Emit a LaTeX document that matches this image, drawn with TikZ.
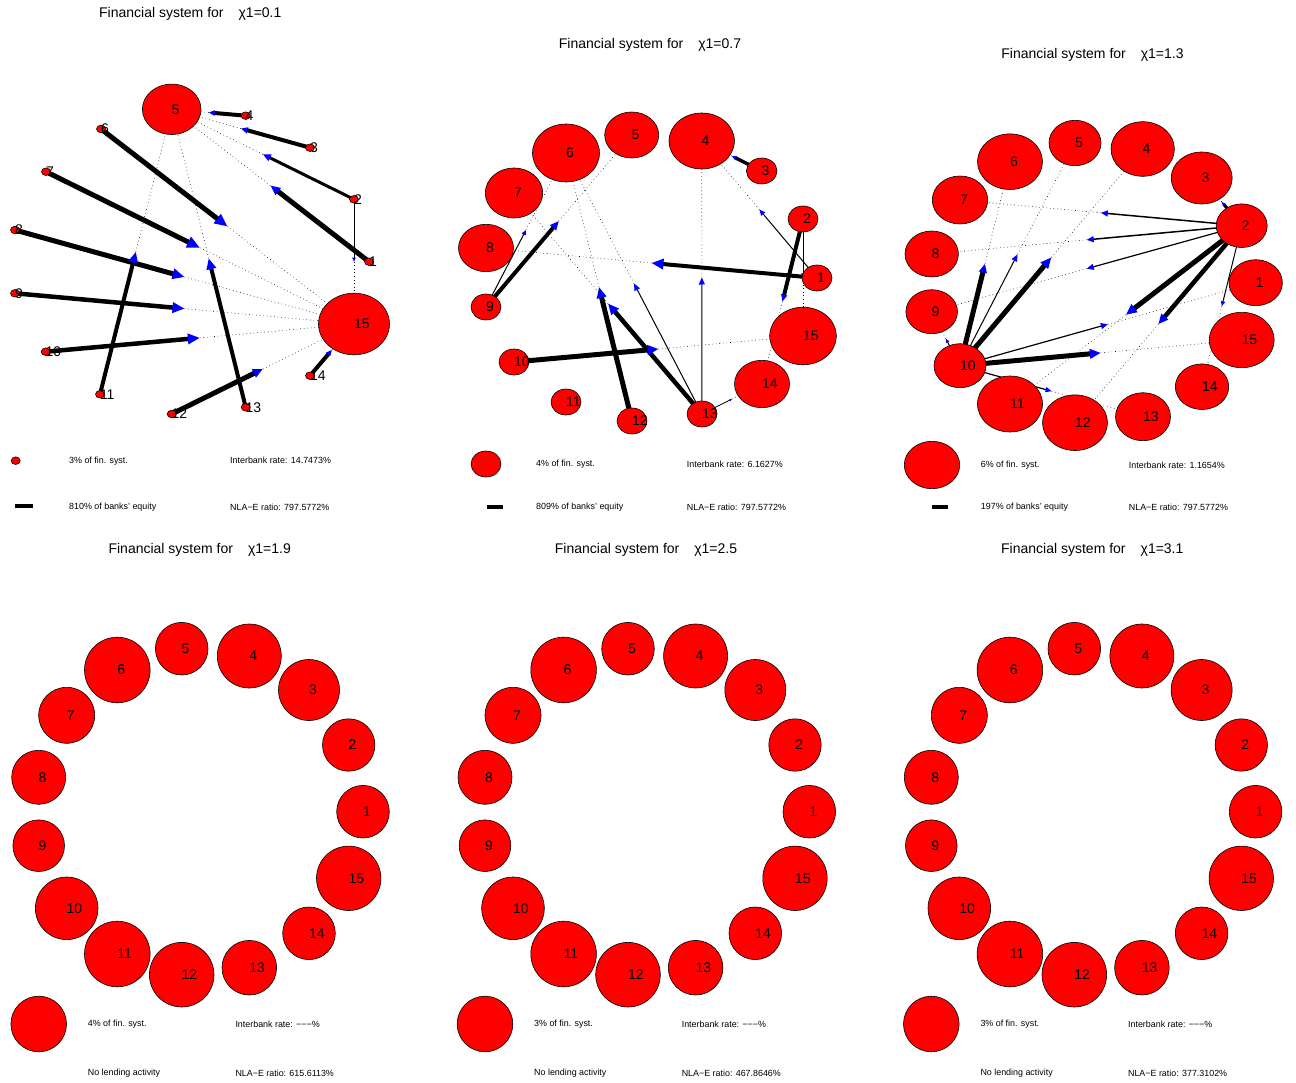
\documentclass[tikz,border=0pt]{standalone}
\usepackage{fontspec}
\setmainfont{Liberation Sans}
\usetikzlibrary{shapes.geometric,arrows.meta,calc}
\pgfdeclarelayer{edgelayer}
\pgfsetlayers{edgelayer,main}
\newcommand\bkNum{\fontsize{14}{16}\selectfont}
\newcommand\bkTitle{\fontsize{14}{16}\selectfont}
\newcommand\bkLeg{\fontsize{8.9}{10}\selectfont}
\newcommand\bkL[1]{\makebox[0pt][l]{\smash{\raisebox{-0.5\height}{#1}}}}
\tikzset{
  bank/.style 2 args={ellipse, draw=black, fill=red, line width=0.6pt, inner sep=0pt, outer sep=0pt,
     minimum width={2*#1pt}, minimum height={2*#2pt}, font=\bkNum},
  legdot/.style 2 args={ellipse, draw=black, fill=red, line width=0.6pt, inner sep=0pt, outer sep=0pt,
     minimum width={2*#1pt}, minimum height={2*#2pt}},
  ttl/.style={font=\bkTitle, inner sep=0pt},
  leg/.style={font=\bkLeg, anchor=west, inner sep=0pt},
  dotl/.style={line width=0.6pt, dash pattern=on 0.6pt off 3pt},
  legbar/.style={line width=4pt},
}
\newcommand\bkedge[4]{%
  \pgfmathsetmacro\bkwid{0.85*#4}%
  \draw[line width=#3pt, -{Triangle[color=blue,length=#4pt,width=\bkwid pt]}] (#1.center) -- ($(#1.center)!0.5!(#2.center)$);
  \draw[dotl] ($(#1.center)!0.5!(#2.center)$) -- (#2.center);
}
\begin{document}
\begin{tikzpicture}[x=1pt,y=-1pt]
\path[use as bounding box] (0,0) rectangle (1296,1083);

% ---------------- Panel 1 ----------------
\node[ttl] (A-title) at (190.3,14) {Financial system for\hspace{15pt}χ1=0.1};
\node[bank={4.5}{3.8}] (A1) at (369,261.7) {\bkL{1}};
\node[bank={4.5}{3.8}] (A2) at (354,199.3) {\bkL{2}};
\node[bank={4.5}{3.8}] (A3) at (310,147.7) {\bkL{3}};
\node[bank={4.5}{3.8}] (A4) at (245.7,115.7) {\bkL{4}};
\node[bank={29.3}{25.2}] (A5) at (171.7,109.3) {\bkL{5}};
\node[bank={4.5}{3.8}] (A6) at (101,129) {\bkL{6}};
\node[bank={4.5}{3.8}] (A7) at (46,171.7) {\bkL{7}};
\node[bank={4.5}{3.8}] (A8) at (15,230) {\bkL{8}};
\node[bank={4.5}{3.8}] (A9) at (15,293.3) {\bkL{9}};
\node[bank={4.5}{3.8}] (A10) at (45.7,351.7) {\bkL{10}};
\node[bank={4.5}{3.8}] (A11) at (100,394.3) {\bkL{11}};
\node[bank={4.5}{3.8}] (A12) at (171.7,414) {\bkL{12}};
\node[bank={4.5}{3.8}] (A13) at (245.7,407.3) {\bkL{13}};
\node[bank={4.5}{3.8}] (A14) at (310,375.7) {\bkL{14}};
\node[bank={35.5}{30.8}] (A15) at (354,324) {\bkL{15}};
\node[legdot={4.5}{3.8}] (A0) at (15.7,460.7) {};
\node[leg] (A-l1) at (69,460.7) {3\% of fin. syst.};
\node[leg] (A-l2) at (230,460.7) {Interbank rate: 14.7473\%};
\node[leg] (A-l3) at (69,507) {810\% of banks' equity};
\node[leg] (A-l4) at (230,507) {NLA−E ratio: 797.5772\%};
\draw[legbar] (15,506) -- (33,506);

% ---------------- Panel 2 ----------------
\node[ttl] (B-title) at (650,45) {Financial system for\hspace{15pt}χ1=0.7};
\node[bank={15}{13}] (B1) at (817,278) {\bkL{1}};
\node[bank={15}{13}] (B2) at (803,219) {\bkL{2}};
\node[bank={15.3}{13}] (B3) at (761.7,171) {\bkL{3}};
\node[bank={32.7}{28}] (B4) at (701.7,141) {\bkL{4}};
\node[bank={27}{23}] (B5) at (631.7,135) {\bkL{5}};
\node[bank={33.5}{29}] (B6) at (566,153) {\bkL{6}};
\node[bank={28.7}{25}] (B7) at (514,193) {\bkL{7}};
\node[bank={27.5}{23.7}] (B8) at (486,248) {\bkL{8}};
\node[bank={15}{13}] (B9) at (486,307) {\bkL{9}};
\node[bank={15}{13}] (B10) at (514,362) {\bkL{10}};
\node[bank={15}{13}] (B11) at (566,402) {\bkL{11}};
\node[bank={15}{13}] (B12) at (632,421) {\bkL{12}};
\node[bank={15}{13}] (B13) at (702,414) {\bkL{13}};
\node[bank={27.5}{23.7}] (B14) at (762,384) {\bkL{14}};
\node[bank={33.3}{28.8}] (B15) at (803,336) {\bkL{15}};
\node[legdot={15}{13}] (B0) at (486,464) {};
\node[leg] (B-l1) at (536,464) {4\% of fin. syst.};
\node[leg] (B-l2) at (686.7,464) {Interbank rate: 6.1627\%};
\node[leg] (B-l3) at (536,507) {809\% of banks' equity};
\node[leg] (B-l4) at (686.7,507) {NLA−E ratio: 797.5772\%};
\draw[legbar] (486.7,507) -- (502.7,507);

% ---------------- Panel 3 ----------------
\node[ttl] (C-title) at (1092.5,55) {Financial system for\hspace{15pt}χ1=1.3};
\node[bank={26.7}{23}] (C1) at (1255.7,282.7) {\bkL{1}};
\node[bank={25.5}{21.8}] (C2) at (1241.7,225.7) {\bkL{2}};
\node[bank={30.5}{26}] (C3) at (1201.7,178) {\bkL{3}};
\node[bank={31.7}{27.3}] (C4) at (1142.7,149) {\bkL{4}};
\node[bank={26}{22.7}] (C5) at (1075,143) {\bkL{5}};
\node[bank={32.5}{27.8}] (C6) at (1010,161.7) {\bkL{6}};
\node[bank={27.7}{24}] (C7) at (960,200) {\bkL{7}};
\node[bank={26.7}{23}] (C8) at (931.7,254) {\bkL{8}};
\node[bank={25.8}{22}] (C9) at (931.7,311.7) {\bkL{9}};
\node[bank={26}{22}] (C10) at (960,365.7) {\bkL{10}};
\node[bank={32.5}{28}] (C11) at (1010,404) {\bkL{11}};
\node[bank={32.5}{27.8}] (C12) at (1075,422.7) {\bkL{12}};
\node[bank={27.5}{24}] (C13) at (1143,416.7) {\bkL{13}};
\node[bank={26.7}{22.8}] (C14) at (1202,386.7) {\bkL{14}};
\node[bank={32.5}{27.7}] (C15) at (1241.7,340) {\bkL{15}};
\node[legdot={27.7}{23.7}] (C0) at (932,465) {};
\node[leg] (C-l1) at (980.7,465) {6\% of fin. syst.};
\node[leg] (C-l2) at (1128.7,465) {Interbank rate: 1.1654\%};
\node[leg] (C-l3) at (980.7,507) {197\% of banks' equity};
\node[leg] (C-l4) at (1128.7,507) {NLA−E ratio: 797.5772\%};
\draw[legbar] (931.7,507) -- (948.3,507);

% ---------------- Bottom panels ----------------
\foreach \pn/\dx/\cv/\pc/\nla in {D/0/1.9/4/615.6113,E/446.3/2.5/3/467.8646,F/892.6/3.1/3/377.3102}{
  \node[ttl] (\pn-title) at (199.7+\dx,550) {Financial system for\hspace{15pt}χ1=\cv};
  \node[bank={26.3}{26.3}] (\pn1) at (363+\dx,811.7) {\bkL{1}};
  \node[bank={26.2}{26.2}] (\pn2) at (348.7+\dx,745) {\bkL{2}};
  \node[bank={30.5}{30.5}] (\pn3) at (309+\dx,690) {\bkL{3}};
  \node[bank={32}{32}] (\pn4) at (249.3+\dx,656) {\bkL{4}};
  \node[bank={26.3}{26.3}] (\pn5) at (181.7+\dx,648.7) {\bkL{5}};
  \node[bank={32.8}{32.8}] (\pn6) at (117.3+\dx,670) {\bkL{6}};
  \node[bank={28}{28}] (\pn7) at (66.7+\dx,715.3) {\bkL{7}};
  \node[bank={27}{27}] (\pn8) at (38.7+\dx,777.3) {\bkL{8}};
  \node[bank={25.8}{25.8}] (\pn9) at (38.7+\dx,845.7) {\bkL{9}};
  \node[bank={31.3}{31.3}] (\pn10) at (66.7+\dx,908.3) {\bkL{10}};
  \node[bank={32.8}{32.8}] (\pn11) at (117.3+\dx,954) {\bkL{11}};
  \node[bank={32.3}{32.3}] (\pn12) at (181.7+\dx,974.7) {\bkL{12}};
  \node[bank={27.3}{27.3}] (\pn13) at (249.3+\dx,967.7) {\bkL{13}};
  \node[bank={26.3}{26.3}] (\pn14) at (309+\dx,933.3) {\bkL{14}};
  \node[bank={32.2}{32.2}] (\pn15) at (348.7+\dx,878.3) {\bkL{15}};
  \node[legdot={27.8}{27.8}] (\pn0) at (38.7+\dx,1024) {};
  \node[leg] (\pn-l1) at (87.7+\dx,1024) {\pc\% of fin. syst.};
  \node[leg] (\pn-l2) at (235.3+\dx,1024) {Interbank rate: −−−\%};
  \node[leg] (\pn-l3) at (87.7+\dx,1073.3) {No lending activity};
  \node[leg] (\pn-l4) at (235.3+\dx,1073.3) {NLA−E ratio: \nla\%};
}

% ---------------- Edges (below the banks) ----------------
\begin{pgfonlayer}{edgelayer}
\fill[white] (0,0) rectangle (1296,1083);
% panel 1
\bkedge{A4}{A5}{4}{6}
\bkedge{A3}{A5}{4}{7}
\bkedge{A2}{A5}{3}{8}
\bkedge{A1}{A5}{5}{10}
\bkedge{A2}{A15}{0.6}{4}
\bkedge{A6}{A15}{5}{13}
\bkedge{A7}{A15}{5}{13}
\bkedge{A8}{A15}{5}{12}
\bkedge{A9}{A15}{4.5}{12}
\bkedge{A10}{A15}{4.5}{12}
\bkedge{A11}{A5}{4}{11}
\bkedge{A13}{A5}{4}{11}
\bkedge{A12}{A15}{5}{10}
\bkedge{A14}{A15}{4}{6}
% panel 2
\bkedge{B3}{B4}{3.5}{5}
\bkedge{B1}{B4}{1}{6}
\bkedge{B2}{B14}{4}{7}
\bkedge{B2}{B15}{0.5}{4}
\bkedge{B1}{B8}{4}{12}
\bkedge{B9}{B5}{4}{9}
\bkedge{B9}{B6}{1}{5}
\bkedge{B12}{B6}{5}{11}
\bkedge{B13}{B7}{4.5}{11}
\bkedge{B13}{B6}{1}{7}
\bkedge{B13}{B4}{1}{7}
\bkedge{B13}{B14}{0.8}{2.5}
\bkedge{B10}{B15}{5}{11}
% panel 3
\bkedge{C2}{C3}{3}{4}
\bkedge{C2}{C7}{1.5}{7}
\bkedge{C2}{C8}{1.5}{7}
\bkedge{C2}{C9}{1.2}{7}
\bkedge{C2}{C11}{5}{11}
\bkedge{C2}{C12}{4.5}{10}
\bkedge{C2}{C14}{1}{5}
\bkedge{C10}{C6}{5}{9}
\bkedge{C10}{C5}{1}{7}
\bkedge{C10}{C4}{5}{11}
\bkedge{C10}{C1}{1.2}{7}
\bkedge{C10}{C15}{5}{11}
\bkedge{C10}{C13}{1.2}{6}
\bkedge{C10}{C9}{1}{4}
\end{pgfonlayer}
\end{tikzpicture}
\end{document}
